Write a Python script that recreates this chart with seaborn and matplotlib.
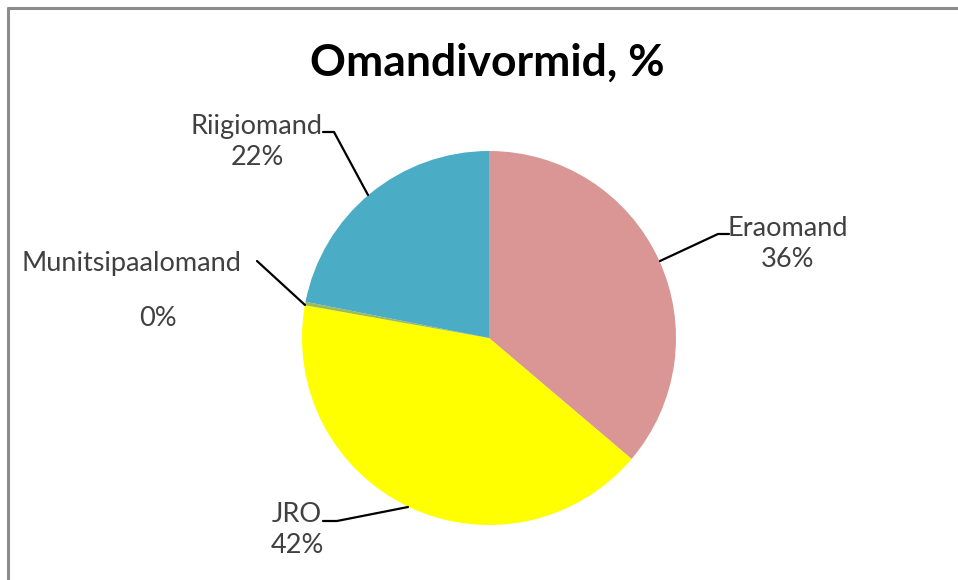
import numpy as np
import pandas as pd
import matplotlib
matplotlib.use("Agg")
import matplotlib.pyplot as plt
import seaborn as sns
from matplotlib.lines import Line2D

# data (share of ownership forms, %)
categories = ["Eraomand", "JRO", "Munitsipaalomand", "Riigiomand"]
values = [36.2, 41.6, 0.3, 21.9]
colors = ["#D99694", "#FFFF00", "#9BBB59", "#4BACC6"]

sns.set_theme(style="white")
plt.rcParams['font.family'] = ['Lato', 'DejaVu Sans']

df = pd.DataFrame({"cat": categories, "val": values})
df["pct"] = (df["val"] / df["val"].sum() * 100).round().astype(int)
labels = {c: f"{c}\n{p}%" for c, p in zip(df["cat"], df["pct"])}

W, H = 958, 580
fig = plt.figure(figsize=(W / 100, H / 100), dpi=100)
ax = fig.add_axes([0, 0, 1, 1])

cx, cy, r = 489, H - 338, 187
ax.pie(df["val"], colors=colors, startangle=90, counterclock=False,
       center=(cx, cy), radius=r, frame=True,
       wedgeprops=dict(linewidth=0))
ax.set_xlim(0, W)
ax.set_ylim(0, H)
ax.set_aspect("equal")
ax.axis("off")

# outer frame (only left and top edges visible)
fig.add_artist(Line2D([8 / W, 8 / W], [0, 1 - 8 / H], transform=fig.transFigure,
                      color="#8c8c8c", lw=2.2))
fig.add_artist(Line2D([8 / W, 1.01], [1 - 8 / H, 1 - 8 / H], transform=fig.transFigure,
                      color="#8c8c8c", lw=2.2))

fig.text(487 / W, 1 - 63 / H, "Omandivormid, %", ha="center", va="center",
         fontsize=32, fontweight="bold", color="black")

txt = dict(fontsize=19.5, color="#404040", ha="center", va="center", linespacing=1.3)


def yy(v):
    return H - v


# Riigiomand
ax.text(257, yy(142), labels["Riigiomand"], **txt)
ax.plot([323, 334, 368], [yy(132), yy(132), yy(195)], color="black", lw=1.6)
# Eraomand
ax.text(788, yy(244), labels["Eraomand"], **txt)
ax.plot([660, 718, 729], [yy(261), yy(234), yy(234)], color="black", lw=1.6)
# Munitsipaalomand
ax.text(131, yy(264), "Munitsipaalomand", **txt)
ax.text(158, yy(319), f"{df['pct'][2]}%", **txt)
ax.plot([257, 305], [yy(261), yy(305)], color="black", lw=1.6)
# JRO
ax.text(297, yy(530), labels["JRO"], **txt)
ax.plot([323, 337, 408], [yy(521), yy(521), yy(507)], color="black", lw=1.6)

fig.savefig("out.png", dpi=100)
